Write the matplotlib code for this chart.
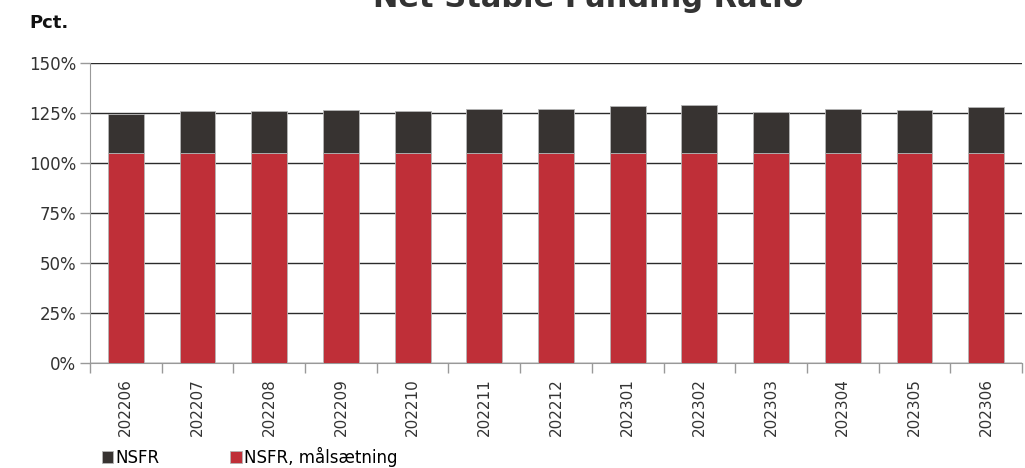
import numpy as np
import matplotlib.pyplot as plt
from matplotlib.ticker import FuncFormatter, FixedLocator

# data
months = ["202206", "202207", "202208", "202209", "202210", "202211", "202212",
          "202301", "202302", "202303", "202304", "202305", "202306"]
nsfr = [124.3, 125.8, 126.2, 126.3, 125.9, 127.2, 127.0,
        128.7, 129.0, 125.3, 127.2, 126.7, 127.8]
target = [105, 105, 105, 105, 105, 105, 105, 105, 105, 105, 105, 105, 105]

RED = "#BF2F38"
DARK = "#373331"
EDGE = "#B5B5B5"

plt.rcParams["font.family"] = ["DejaVu Sans"]

fig = plt.figure(figsize=(10.25, 4.68), dpi=100)
ax = fig.add_axes([90 / 1025, 1 - 363 / 468, 932 / 1025, 300 / 468])

x = np.arange(len(months))
above = np.array(nsfr) - np.array(target)
ax.bar(x, target, width=0.5, color=RED, edgecolor=EDGE, linewidth=0.6,
       label="NSFR, målsætning", zorder=3)
ax.bar(x, above, width=0.5, bottom=target, color=DARK, edgecolor=EDGE,
       linewidth=0.6, label="NSFR", zorder=3)

ax.set_xlim(-0.5, len(months) - 0.5)
ax.set_ylim(0, 150)
ax.set_yticks(np.arange(0, 151, 25))
ax.yaxis.set_major_formatter(FuncFormatter(lambda v, p: f"{int(v)}%"))
ax.grid(axis="y", color="#2b2b2b", linewidth=1.0, zorder=0)
ax.set_axisbelow(True)

ax.set_xticks(x)
ax.set_xticklabels(months, rotation=90, fontsize=11, color="#333333")
ax.tick_params(axis="x", length=0, pad=11)
ax.xaxis.set_minor_locator(FixedLocator(np.arange(-0.5, len(months), 1.0)))
ax.tick_params(axis="x", which="minor", length=7, color="#999999", width=1)
ax.tick_params(axis="y", length=7, color="#999999", width=1, labelsize=12,
               labelcolor="#333333", pad=3)

for s in ["top", "right"]:
    ax.spines[s].set_visible(False)
ax.spines["left"].set_color("#999999")
ax.spines["bottom"].set_color("#999999")

fig.text(29 / 1025, 1 - 23 / 468, "Pct.", fontsize=13, fontweight="bold",
         va="center", ha="left", color="#111111")
fig.text(588 / 1025, 1 - 7 / 468, "Net Stable Funding Ratio", fontsize=22,
         fontweight="bold", va="baseline", ha="center", color="#333333")

h, l = ax.get_legend_handles_labels()
fig.legend(h[::-1], l[::-1], loc="lower left", bbox_to_anchor=(95 / 1025, -0.012),
           ncol=2, frameon=False, fontsize=12, handlelength=0.7, handleheight=0.7,
           handletextpad=0.15, columnspacing=4.2, borderaxespad=0)

fig.savefig("out.png", dpi=100)
